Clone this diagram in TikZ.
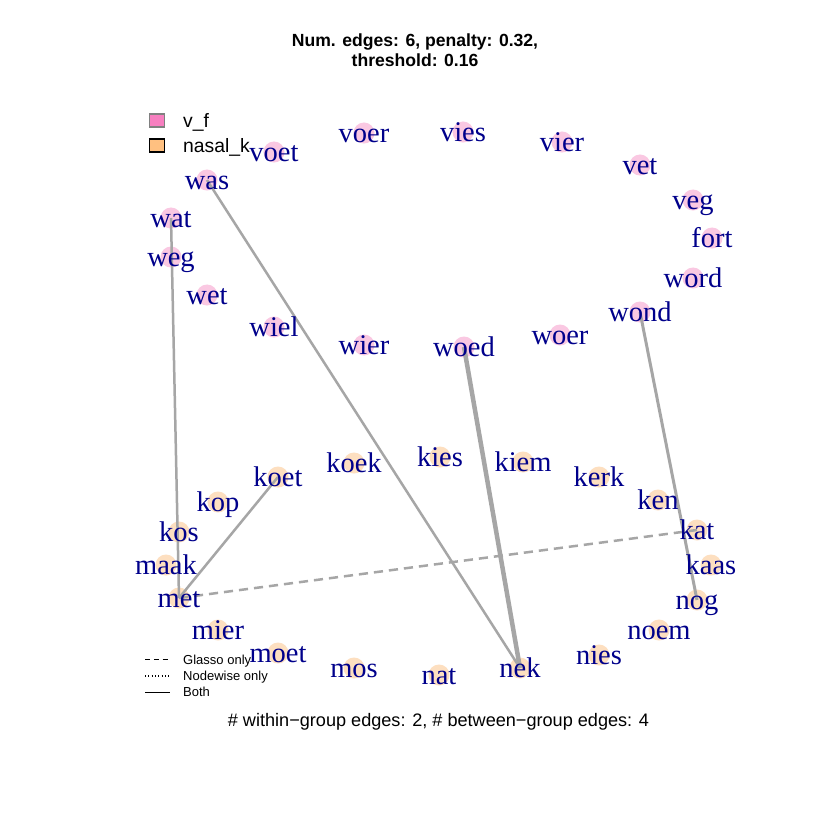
\documentclass[tikz,border=0pt]{standalone}
\usepackage{fontspec}
\setmainfont{Liberation Serif}
\setsansfont{Liberation Sans}
\usetikzlibrary{positioning}
\definecolor{vfkey}{HTML}{F77FC0}
\definecolor{vfcirc}{HTML}{FAC8E2}
\definecolor{nkkey}{HTML}{FFC080}
\definecolor{nkcirc}{HTML}{FDDFC0}
\definecolor{wordblue}{HTML}{00008B}
\definecolor{linkgray}{HTML}{A6A6A6}
\tikzset{
  % Word nodes
  vfnode/.style={circle, fill=vfcirc, draw=none, minimum size=0.21cm, inner sep=0pt},
  nknode/.style={circle, fill=nkcirc, draw=none, minimum size=0.21cm, inner sep=0pt},
  wordlbl/.style={font=\fontsize{8.1}{9}\selectfont, text=wordblue, anchor=base, inner sep=0pt},
  % Connectors
  link/.style={draw=linkgray, line width=#1, line cap=butt},
  link/.default={0.71pt},
  glassolink/.style={link, dash pattern=on 2.6pt off 1.7pt},
  % Legends and titles
  keybox/.style={rectangle, minimum width=0.15cm, minimum height=0.13cm, inner sep=0pt, line width=0.4pt},
  keytext/.style={font=\sffamily\fontsize{5.5}{6}\selectfont, anchor=base west, inner sep=0pt},
  smallkey/.style={font=\sffamily\fontsize{3.7}{4}\selectfont, anchor=base west, inner sep=0pt},
}

\begin{document}
\begin{tikzpicture}[x=0.01cm, y=-0.01cm,
    titletext/.style={font=\sffamily\bfseries\fontsize{5}{6}\selectfont, anchor=base, inner sep=0pt}
  ]
    \useasboundingbox[fill=white] (0,0) rectangle (830,830);

    % v_f words
    \foreach \w/\x/\y in {voet/274/152, voer/364/133, vies/463/132, vier/562/142,
        vet/640/165, veg/693/200, fort/712/238, word/693/278, wond/640/312,
        woer/560/335, woed/464/347, wier/364/345, wiel/274/327, wet/207/295,
        weg/171/257, wat/171/218, was/207/180} {
      \node[vfnode] (\w) at (\x,\y) {};
    }

    % nasal_k words
    \foreach \w/\x/\y in {kies/440/457, kiem/523/462, kerk/599/477, ken/658/500,
        kat/697/530, kaas/711/565, nog/697/600, noem/659/630, nies/599/655,
        nek/520/668, nat/439/675, mos/354/668, moet/278/653, mier/218/630,
        met/179/598, maak/166/565, kos/179/532, kop/218/502, koet/278/477,
        koek/354/463} {
      \node[nknode] (\w) at (\x,\y) {};
    }

    % Edges
    \draw[link] (was.center) -- (nek.center);
    \draw[link] (wat.center) -- (met.center);
    \draw[link] (koet.center) -- (met.center);
    \draw[glassolink] (met.center) -- (kat.center);
    \draw[link=1.28pt] (woed.center) -- (nek.center);
    \draw[link=0.85pt] (wond.center) -- (nog.center);

    % Word labels
    \foreach \w in {voet, voer, vies, vier, vet, veg, fort, word, wond, woer,
        woed, wier, wiel, wet, weg, wat, was, kies, kiem, kerk, ken, kat, kaas,
        nog, noem, nies, nek, nat, mos, moet, mier, met, maak, kos, kop, koet,
        koek} {
      \node[wordlbl] (\w-lbl) at ([yshift=-0.095cm]\w.center) {\w};
    }

    % Title
    \node[titletext] (title1) at (415,46.5) {Num. edges: 6, penalty: 0.32,};
    \node[titletext] (title2) at (415,66) {threshold: 0.16};

    % Group key
    \node[keybox, fill=vfkey, draw=gray] (keyvf) at (157,120.5) {};
    \node[keybox, fill=nkkey, draw=black] (keynk) at (157,145.5) {};
    \node[keytext] (keyvftxt) at (182.5,127) {v\_f};
    \node[keytext] (keynktxt) at (182.5,152) {nasal\_k};

    % Line type key
    \coordinate (ga) at (145,659.3);
    \coordinate (gb) at (170,659.3);
    \coordinate (na) at (145,676);
    \coordinate (nb) at (170,676);
    \coordinate (ba) at (145,692.3);
    \coordinate (bb) at (170,692.3);
    \draw[line width=0.3pt, dash pattern=on 1.4pt off 1.1pt] (ga) -- (gb);
    \draw[line width=0.3pt, dash pattern=on 0.25pt off 0.7pt] (na) -- (nb);
    \draw[line width=0.3pt] (ba) -- (bb);
    \node[smallkey] (keyglasso) at (182.5,664) {Glasso only};
    \node[smallkey] (keynodewise) at (182.5,680.7) {Nodewise only};
    \node[smallkey] (keyboth) at (182.5,696.7) {Both};

    % Edge counts
    \node[font=\sffamily\fontsize{5.15}{6}\selectfont, anchor=base, inner sep=0pt] (counts) at (438.5,726.5)
      {\# within{\textminus}group edges: 2, \# between{\textminus}group edges: 4};
  \end{tikzpicture}
\end{document}
